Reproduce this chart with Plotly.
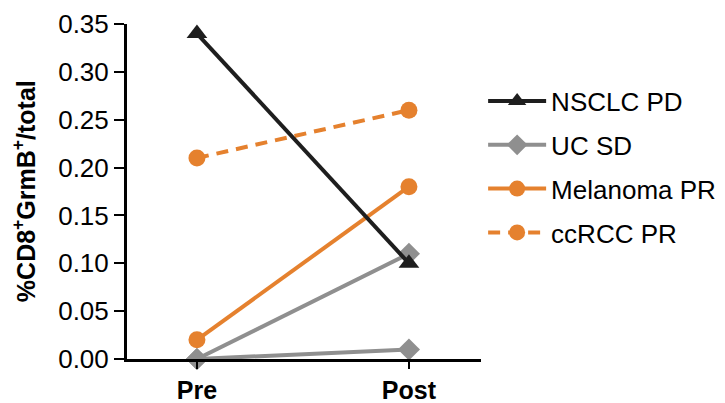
import plotly.graph_objects as go

timepoints = ["Pre", "Post"]
nsclc_pd = [0.34, 0.10]
uc_sd_a = [0.0, 0.11]
uc_sd_b = [0.0, 0.01]
melanoma_pr = [0.02, 0.18]
ccrcc_pr = [0.21, 0.26]
y_ticks = [0.00, 0.05, 0.10, 0.15, 0.20, 0.25, 0.30, 0.35]
y_title = "<b>%CD8<sup>+</sup>GrmB<sup>+</sup>/total</b>"

BLACK = "#1e1e1e"
GRAY = "#8f8f8f"
ORANGE = "#e5812e"
FONT = "Liberation Sans, Arial, sans-serif"

fig = go.Figure()
xs = [0, 1]

def add(y, name, color, symbol, size, dash="solid", show=True, group=None, rank=1):
    fig.add_trace(go.Scatter(
        x=xs, y=y, name=name, mode="lines+markers",
        line=dict(color=color, width=4, dash=dash),
        marker=dict(color=color, symbol=symbol, size=size),
        showlegend=show, legendgroup=group or name, legendrank=rank,
        cliponaxis=False,
    ))

add(uc_sd_b, "UC SD", GRAY, "diamond", 17, show=False, group="UC SD", rank=2)
add(uc_sd_a, "UC SD", GRAY, "diamond", 17, group="UC SD", rank=2)
add(melanoma_pr, "Melanoma PR", ORANGE, "circle", 17, rank=3)
add(ccrcc_pr, "ccRCC PR", ORANGE, "circle", 17, dash="12px,8px", rank=4)
add(nsclc_pd, "NSCLC PD", BLACK, "triangle-up", 18, rank=1)

fig.update_layout(
    width=725, height=403,
    margin=dict(l=119, r=252, t=16, b=52, autoexpand=False),
    paper_bgcolor="white", plot_bgcolor="white",
    font=dict(family=FONT, color="black", size=25),
    legend=dict(
        x=1.006, y=0.84, xanchor="left", yanchor="top",
        traceorder="grouped", font=dict(size=26, family=FONT),
        tracegroupgap=7, itemwidth=58,
    ),
    showlegend=True,
    annotations=[dict(
        text=y_title, xref="paper", yref="paper", x=-0.292, y=0.5,
        xanchor="center", yanchor="middle", textangle=-90, showarrow=False,
        font=dict(size=25, family=FONT, color="black"),
    )],
)

fig.update_xaxes(
    range=[-0.33, 1.34], automargin=False,
    tickmode="array", tickvals=xs, ticktext=["<b>%s</b>" % t for t in timepoints],
    showline=True, linecolor="black", linewidth=3,
    ticks="outside", ticklen=7, tickwidth=2, tickcolor="black",
    showgrid=False, zeroline=False,
    tickfont=dict(size=25, family=FONT),
)
fig.update_yaxes(
    range=[0, 0.35], automargin=False,
    tickmode="array", tickvals=y_ticks,
    ticktext=["%.2f" % v for v in y_ticks],
    showline=True, linecolor="black", linewidth=3,
    ticks="outside", ticklen=10, tickwidth=2, tickcolor="black",
    ticklabelstandoff=0,
    showgrid=False, zeroline=False,
    tickfont=dict(size=26, family=FONT),
)

fig.write_html("out.html")
